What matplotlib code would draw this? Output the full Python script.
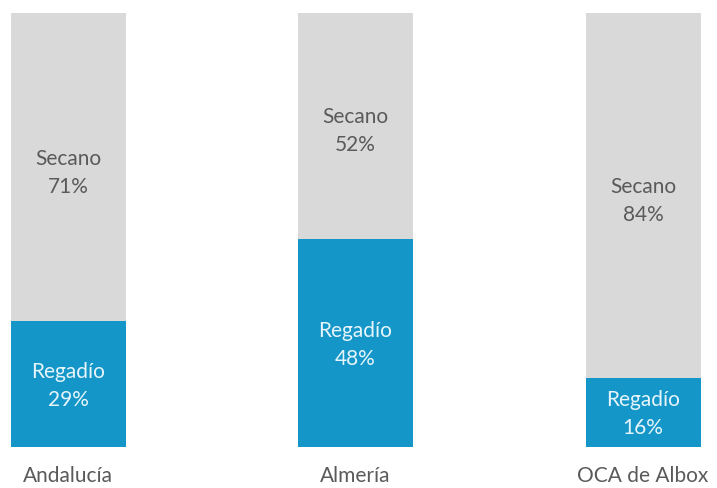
import matplotlib
matplotlib.use("Agg")
import matplotlib.pyplot as plt

categories = ["Andalucía", "Almería", "OCA de Albox"]
regadio = [29, 48, 16]
secano = [71, 52, 84]

blue = "#1496c8"
gray = "#d9d9d9"

plt.rcParams['font.family'] = ['Lato', 'DejaVu Sans']

fig = plt.figure(figsize=(7.17, 4.88), dpi=100)
ax = fig.add_axes([0, 1 - 447/488, 1, 434/488])
x = list(range(len(categories)))
w = 0.4
ax.bar(x, regadio, width=w, color=blue)
ax.bar(x, secano, width=w, bottom=regadio, color=gray)

for i in x:
    ax.text(i, regadio[i] / 2 - 0.5, f"Regadío\n{regadio[i]}%", ha="center", va="center",
            color="#e6f5fb", fontsize=15, linespacing=1.5)
    ax.text(i, regadio[i] + secano[i] / 2 - 1.3, f"Secano\n{secano[i]}%", ha="center", va="center",
            color="#5a5a5a", fontsize=15, linespacing=1.5)
    ax.text(i, -6.7, categories[i], ha="center", va="center", color="#5a5a5a", fontsize=15)

ax.set_xlim(-68/287.5, (717-68)/287.5)
ax.set_ylim(0, 100)
ax.axis("off")
fig.savefig("out.png", dpi=100)
